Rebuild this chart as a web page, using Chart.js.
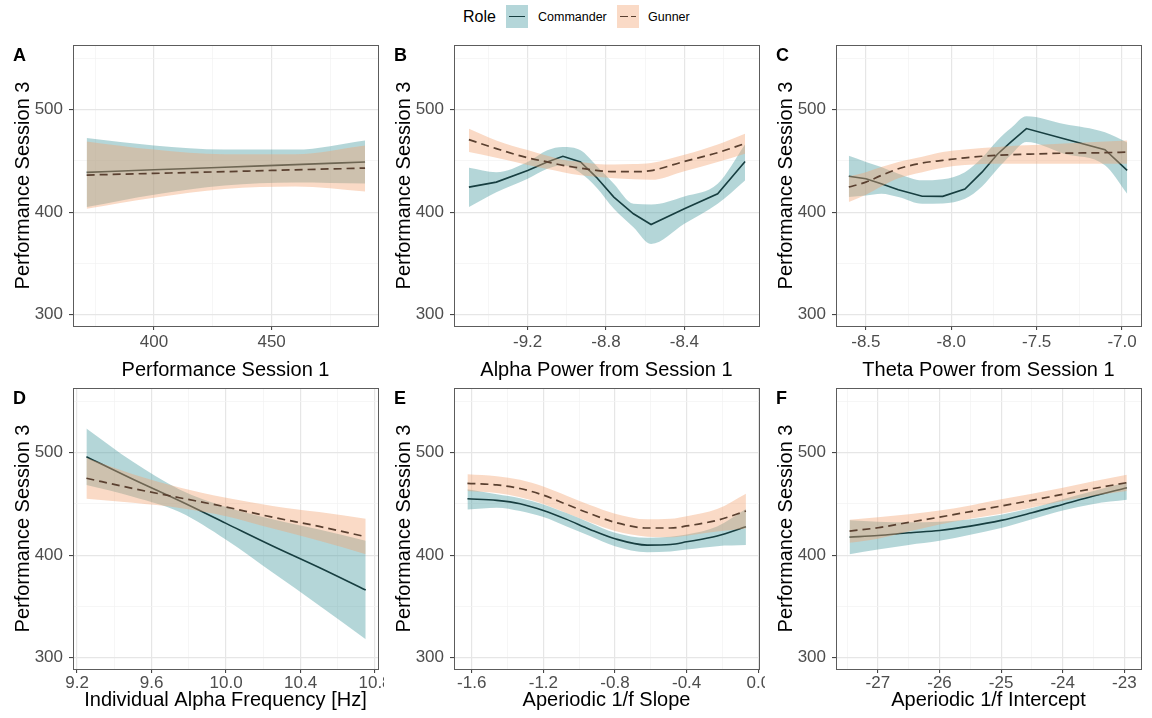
<!DOCTYPE html>
<html>
<head>
<meta charset="utf-8">
<script src="https://cdn.jsdelivr.net/npm/chart.js@4.4.1/dist/chart.umd.min.js"></script>
<style>
  body { margin: 0; width: 1152px; height: 718px; background: #fff; position: relative; overflow: hidden;
         font-family: "Liberation Sans", Arial, sans-serif; }
  canvas { position: absolute; }
  .lg { position: absolute; color: #000; white-space: nowrap; }
  .key { position: absolute; width: 22px; height: 23px; }
  .key .ln { position: absolute; top: 11px; height: 0; }
</style>
</head>
<body>
<!-- shared legend -->
<div class="lg" style="left:463px;top:9px;font-size:16px;line-height:16px">Role</div>
<div class="key" style="left:506px;top:5px;background:#b4d6d9">
  <div class="ln" style="left:3px;width:16px;border-top:1.7px solid #173e40"></div>
</div>
<div class="lg" style="left:538px;top:11px;font-size:12.5px;line-height:13px">Commander</div>
<div class="key" style="left:617px;top:5px;background:#fadac6">
  <div class="ln" style="left:3px;width:8px;border-top:1.7px solid #5a4030"></div>
  <div class="ln" style="left:14px;width:5px;border-top:1.7px solid #5a4030"></div>
</div>
<div class="lg" style="left:648px;top:11px;font-size:12.5px;line-height:13px">Gunner</div>

<canvas id="cA" style="left:0px;top:30px" width="384" height="356"></canvas>
<canvas id="cB" style="left:381px;top:30px" width="384" height="356"></canvas>
<canvas id="cC" style="left:763px;top:30px" width="384" height="356"></canvas>
<canvas id="cD" style="left:0px;top:373px" width="384" height="345"></canvas>
<canvas id="cE" style="left:381px;top:373px" width="384" height="345"></canvas>
<canvas id="cF" style="left:763px;top:373px" width="384" height="345"></canvas>

<script>
// shared y axis
const yMajor = [300, 400, 500];
const yMinor = [350, 450, 550];
const yLabels = ['300', '400', '500'];

// A: Performance Session 1
const A_x = [371.4, 400, 430, 460, 489.7];
const A_cmd = [438.8, 441.3, 443.8, 446.4, 448.9];
const A_cmdHi = [472.3, 465, 461, 461, 470];
const A_cmdLo = [405, 417, 426, 429, 428];
const A_gun = [436.2, 437.8, 439.5, 441.3, 443];
const A_gunHi = [469, 461, 456.5, 456.5, 465];
const A_gunLo = [403.3, 414, 422.5, 425, 420.2];
const A_xMajor = [400, 450];
const A_xMinor = [375, 425, 475];
const A_xLabels = ['400', '450'];

// B: Alpha Power from Session 1
const B_x = [-9.50, -9.36, -9.20, -9.10, -9.02, -8.93, -8.85, -8.76, -8.66, -8.57, -8.40, -8.23, -8.09];
const B_cmd = [424.4, 429.3, 440.7, 449, 454.5, 448.9, 434.2, 414.7, 398.4, 388, 403.3, 417.9, 449.5];
const B_cmdHi = [443.4, 439, 448.9, 460.3, 463.5, 460.3, 445.6, 427.7, 408.1, 407.5, 415.3, 427.7, 466];
const B_cmdLo = [404.9, 419.5, 432.6, 442.3, 445.7, 438.1, 424.4, 403.3, 385.3, 369, 388.6, 408.1, 431];
const B_gun = [470.7, 462, 453, 449, 445.6, 443, 440.7, 439.5, 439.5, 440.5, 449.5, 458, 467];
const B_gunHi = [481.5, 470, 460.5, 455, 451, 449, 447, 446.5, 447, 448, 456, 466, 476.6];
const B_gunLo = [458.6, 453, 446, 442, 439, 436, 434.5, 433, 432, 431.5, 440, 449, 457];
const B_xMajor = [-9.2, -8.8, -8.4];
const B_xMinor = [-9.4, -9.0, -8.6, -8.2];
const B_xLabels = ['-9.2', '-8.8', '-8.4'];

// C: Theta Power from Session 1
const C_x = [-8.60, -8.50, -8.41, -8.31, -8.17, -8.05, -7.92, -7.82, -7.73, -7.65, -7.56, -7.34, -7.10, -6.97];
const C_cmd = [435, 432.6, 427.7, 421.8, 415.5, 415.4, 422.5, 439, 456.5, 468.5, 481.5, 471.5, 461, 440.8];
const C_cmdHi = [455, 449, 444, 437.5, 431, 432, 439, 453, 470, 482, 493.5, 486, 478, 468];
const C_cmdLo = [414.7, 416.3, 417.9, 414.7, 408.1, 408.5, 413, 425, 442, 456, 468.4, 457, 445.7, 418];
const C_gun = [424.5, 429.3, 435.8, 442.3, 447.9, 450.5, 453, 454.5, 455.5, 456, 456.5, 457.5, 458, 458.6];
const C_gunHi = [435, 439, 444, 449, 454, 458.6, 461, 462.5, 463.5, 464.5, 465.2, 467, 469, 470];
const C_gunLo = [410, 417, 425, 433, 439, 443.4, 446, 447, 447.3, 447.3, 447.3, 447.3, 447.3, 447.3];
const C_xMajor = [-8.5, -8.0, -7.5, -7.0];
const C_xMinor = [-8.25, -7.75, -7.25];
const C_xLabels = ['-8.5', '-8.0', '-7.5', '-7.0'];

// D: Individual Alpha Frequency
const D_x = [9.25, 9.5, 9.75, 10.0, 10.25, 10.5, 10.75];
const D_cmd = [496, 474, 453, 431, 409, 388, 366];
const D_cmdHi = [523.6, 491, 464, 447, 435, 425, 414];
const D_cmdLo = [468.4, 457, 442, 415, 383, 351, 318];
const D_gun = [475, 465, 456, 447, 437, 428, 418];
const D_gunHi = [495, 479, 466, 456, 448, 442, 435.6];
const D_gunLo = [455, 451, 446, 438, 426, 414, 401];
const D_xMajor = [9.2, 9.6, 10.0, 10.4, 10.8];
const D_xMinor = [9.4, 9.8, 10.2, 10.6];
const D_xLabels = ['9.2', '9.6', '10.0', '10.4', '10.8'];

// E: Aperiodic 1/f Slope
const E_x = [-1.624, -1.46, -1.33, -1.2, -1.07, -0.94, -0.8, -0.62, -0.49, -0.4, -0.23, -0.069];
const E_cmd = [455, 453.4, 450.2, 443.6, 434.9, 425.1, 416, 409.8, 410.4, 413, 418.6, 427.7];
const E_cmdHi = [464.2, 459.3, 455.5, 449.5, 441, 431.6, 421.8, 416.9, 418, 420.2, 428, 445];
const E_cmdLo = [444.6, 446.3, 443, 437.1, 428, 418.6, 408.8, 402.9, 403.5, 405.5, 408.8, 409.8];
const E_gun = [470, 468.5, 465, 458.5, 449.5, 440.5, 432, 426.5, 426.5, 428.5, 434, 443];
const E_gunHi = [479, 477, 473.5, 467, 458, 449, 440.5, 435, 435.5, 438, 445, 460];
const E_gunLo = [462.5, 460.5, 456.5, 450, 441, 432, 423.5, 418, 417.5, 419, 423, 426];
const E_xMajor = [-1.6, -1.2, -0.8, -0.4, 0.0];
const E_xMinor = [-1.4, -1.0, -0.6, -0.2];
const E_xLabels = ['-1.6', '-1.2', '-0.8', '-0.4', '0.0'];

// F: Aperiodic 1/f Intercept
const F_x = [-27.46, -27, -26.5, -26, -25.5, -25, -24.5, -24, -23.5, -22.96];
const F_cmd = [417.6, 419.2, 421.8, 424.1, 428.3, 433.9, 441.4, 449.5, 457.7, 465.8];
const F_cmdHi = [434, 432.5, 432, 432.5, 435, 439.5, 446, 454.5, 462.5, 471];
const F_cmdLo = [401, 405.5, 410, 414, 420, 426.5, 435, 443.5, 450, 454];
const F_gun = [423.5, 426.7, 432, 437.1, 442.5, 447.9, 453.5, 459.3, 465, 470.7];
const F_gunHi = [434.5, 437, 440, 443.5, 448.5, 454.4, 460, 465.8, 472, 478.5];
const F_gunLo = [412, 416, 423, 430, 435.5, 440.4, 446.5, 452.8, 458, 462.5];
const F_xMajor = [-27, -26, -25, -24, -23];
const F_xMinor = [-27.5, -26.5, -25.5, -24.5, -23.5];
const F_xLabels = ['-27', '-26', '-25', '-24', '-23'];

const FONT = '"Liberation Sans", Arial, sans-serif';
const TEAL_FILL = 'rgba(68,152,158,0.4)';
const GUN_FILL = 'rgba(242,162,112,0.4)';
const CMD_LINE = '#173e40';
const GUN_LINE = '#5a4030';

const panels = [
  { id: 'cA', letter: 'A', title: 'Performance Session 1', xMin: 365.6, xMax: 495.2, row: 0, sharp: false,
    x: A_x, cmd: A_cmd, cmdHi: A_cmdHi, cmdLo: A_cmdLo, gun: A_gun, gunHi: A_gunHi, gunLo: A_gunLo,
    xMajor: A_xMajor, xMinor: A_xMinor, xLabels: A_xLabels },
  { id: 'cB', letter: 'B', title: 'Alpha Power from Session 1', xMin: -9.576, xMax: -8.019, row: 0, sharp: true,
    x: B_x, cmd: B_cmd, cmdHi: B_cmdHi, cmdLo: B_cmdLo, gun: B_gun, gunHi: B_gunHi, gunLo: B_gunLo,
    xMajor: B_xMajor, xMinor: B_xMinor, xLabels: B_xLabels },
  { id: 'cC', letter: 'C', title: 'Theta Power from Session 1', xMin: -8.675, xMax: -6.889, row: 0, sharp: true,
    x: C_x, cmd: C_cmd, cmdHi: C_cmdHi, cmdLo: C_cmdLo, gun: C_gun, gunHi: C_gunHi, gunLo: C_gunLo,
    xMajor: C_xMajor, xMinor: C_xMinor, xLabels: C_xLabels },
  { id: 'cD', letter: 'D', title: 'Individual Alpha Frequency [Hz]', xMin: 9.178, xMax: 10.816, row: 1, sharp: false,
    x: D_x, cmd: D_cmd, cmdHi: D_cmdHi, cmdLo: D_cmdLo, gun: D_gun, gunHi: D_gunHi, gunLo: D_gunLo,
    xMajor: D_xMajor, xMinor: D_xMinor, xLabels: D_xLabels },
  { id: 'cE', letter: 'E', title: 'Aperiodic 1/f Slope', xMin: -1.699, xMax: 0.004, row: 1, sharp: false,
    x: E_x, cmd: E_cmd, cmdHi: E_cmdHi, cmdLo: E_cmdLo, gun: E_gun, gunHi: E_gunHi, gunLo: E_gunLo,
    xMajor: E_xMajor, xMinor: E_xMinor, xLabels: E_xLabels },
  { id: 'cF', letter: 'F', title: 'Aperiodic 1/f Intercept', xMin: -27.68, xMax: -22.73, row: 1, sharp: false,
    x: F_x, cmd: F_cmd, cmdHi: F_cmdHi, cmdLo: F_cmdLo, gun: F_gun, gunHi: F_gunHi, gunLo: F_gunLo,
    xMajor: F_xMajor, xMinor: F_xMinor, xLabels: F_xLabels }
];

// panel border + tag letter
const framePlugin = {
  id: 'frame',
  afterDatasetsDraw(chart, args, opts) {
    const { ctx, chartArea: a } = chart;
    ctx.save();
    ctx.strokeStyle = '#5c5c5c';
    ctx.lineWidth = 1;
    ctx.strokeRect(Math.round(a.left) + 0.5, Math.round(a.top) + 0.5,
                   Math.round(a.right - a.left), Math.round(a.bottom - a.top));
    ctx.fillStyle = '#000';
    ctx.font = 'bold 18px ' + FONT;
    ctx.textBaseline = 'top';
    ctx.fillText(opts.letter, a.left - 60, a.top + 2);
    ctx.restore();
  }
};

function pts(xs, ys) { return xs.map((x, i) => ({ x: x, y: ys[i] })); }

function gridStyle(major) {
  return {
    color: c => major.includes(c.tick && c.tick.value) ? '#e6e6e6' : '#f2f2f2',
    lineWidth: c => major.includes(c.tick && c.tick.value) ? 1.2 : 0.7,
    tickColor: c => major.includes(c.tick && c.tick.value) ? '#333333' : 'rgba(0,0,0,0)',
    tickLength: 4,
    tickWidth: 1
  };
}

function makeChart(p) {
  const band = { borderWidth: 0, borderColor: 'rgba(0,0,0,0)', pointRadius: 0, cubicInterpolationMode: 'monotone' };
  new Chart(document.getElementById(p.id), {
    type: 'line',
    data: {
      datasets: [
        Object.assign({ label: 'Commander upper', data: pts(p.x, p.cmdHi), fill: '+1', backgroundColor: TEAL_FILL, order: 4 }, band),
        Object.assign({ label: 'Commander lower', data: pts(p.x, p.cmdLo), fill: false, order: 4 }, band),
        { label: 'Commander', data: pts(p.x, p.cmd), borderColor: CMD_LINE, borderWidth: 1.6, pointRadius: 0,
          cubicInterpolationMode: p.sharp ? 'default' : 'monotone', tension: 0, fill: false, order: 3 },
        Object.assign({ label: 'Gunner upper', data: pts(p.x, p.gunHi), fill: '+1', backgroundColor: GUN_FILL, order: 2 }, band),
        Object.assign({ label: 'Gunner lower', data: pts(p.x, p.gunLo), fill: false, order: 2 }, band),
        { label: 'Gunner', data: pts(p.x, p.gun), borderColor: GUN_LINE, borderWidth: 1.7, borderDash: [8, 5],
          pointRadius: 0, cubicInterpolationMode: 'monotone', fill: false, order: 1 }
      ]
    },
    options: {
      responsive: false,
      animation: false,
      devicePixelRatio: 1,
      layout: { padding: { top: 15, right: 6, left: 0, bottom: 0 } },
      plugins: { legend: { display: false }, tooltip: { enabled: false }, frame: { letter: p.letter } },
      scales: {
        x: {
          type: 'linear', min: p.xMin, max: p.xMax,
          afterBuildTicks: s => { s.ticks = p.xMajor.concat(p.xMinor).sort((a, b) => a - b).map(v => ({ value: v })); },
          afterFit: s => { s.height = p.row ? 49 : 60; s.paddingLeft = 0; s.paddingRight = 0; },
          ticks: {
            autoSkip: false, maxRotation: 0, padding: p.row ? 0 : 2, color: '#4d4d4d', font: { size: 17, family: FONT },
            callback: v => { const i = p.xMajor.indexOf(v); return i < 0 ? '' : p.xLabels[i]; }
          },
          grid: gridStyle(p.xMajor),
          border: { display: false },
          title: { display: true, text: p.title, color: '#000', font: { size: 20, family: FONT }, padding: { top: 0, bottom: p.row ? 6 : 4 } }
        },
        y: {
          min: 289, max: 563,
          afterBuildTicks: s => { s.ticks = yMajor.concat(yMinor).sort((a, b) => a - b).map(v => ({ value: v })); },
          afterFit: s => { s.width = 73; s.paddingTop = 0; s.paddingBottom = 0; },
          ticks: {
            padding: 6, color: '#4d4d4d', font: { size: 17, family: FONT },
            callback: v => { const i = yMajor.indexOf(v); return i < 0 ? '' : yLabels[i]; }
          },
          grid: gridStyle(yMajor),
          border: { display: false },
          title: { display: true, text: 'Performance Session 3', color: '#000', font: { size: 20, family: FONT }, padding: { top: 11.5, bottom: 0 } }
        }
      }
    },
    plugins: [framePlugin]
  });
}

panels.forEach(makeChart);
</script>
</body>
</html>
